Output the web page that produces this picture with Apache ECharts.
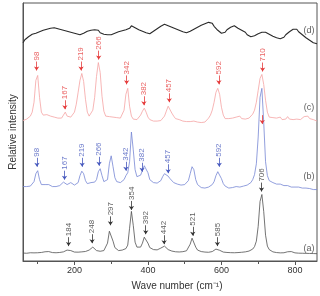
<!DOCTYPE html>
<html><head><meta charset="utf-8">
<script src="https://cdn.jsdelivr.net/npm/echarts@6/dist/echarts.min.js"></script>
<style>html,body{margin:0;padding:0;background:#fff}#c{width:320px;height:296px}</style>
</head><body><div id="c"></div>
<script>
const waves = [60,65,70,75,80,85,90,95,100,105,
110,115,120,125,130,135,140,145,150,155,
160,165,170,175,180,185,190,195,200,205,
210,215,220,225,230,235,240,245,250,255,
260,265,270,275,280,285,290,295,300,305,
310,315,320,325,330,335,340,345,350,355,
360,365,370,375,380,385,390,395,400,405,
410,415,420,425,430,435,440,445,450,455,
460,465,470,475,480,485,490,495,500,505,
510,515,520,525,530,535,540,545,550,555,
560,565,570,575,580,585,590,595,600,605,
610,615,620,625,630,635,640,645,650,655,
660,665,670,675,680,685,690,695,700,705,
710,715,720,725,730,735,740,745,750,755,
760,765,770,775,780,785,790,795,800,805,
810,815,820,825,830,835,840,845,850,855,
860];

const curveA = [8,8.2,7.8,8,8.3,8,8.2,8.5,8.3,8.4,
8.6,8.8,9.3,10,9.5,8.8,8.5,8.4,8.3,8.5,
8.6,8.8,9.2,10,11,11.3,10.5,9.5,9,8.8,
8.9,9,9.2,9.3,9.6,10,11,13,14,12,
10.5,10,9.8,10,10.5,12,18,30,31,20,
13.5,11.5,10.5,10.5,11,11.5,12.5,16,33,50,
36,19,14,13,14,18,24,25,18,13.5,
12,11.5,11.2,11.2,11.8,13,15,15,13,11.5,
10.5,10,9.6,9.3,9.2,9.1,9.2,9.4,9.8,10.3,
12,17,23,21,14,11,10,9.5,9.2,9,
8.9,8.8,9,9.5,10.5,12,12.3,10.8,9.5,9,
8.7,8.6,8.5,8.4,8.4,8.3,8.4,8.5,8.6,8.8,
9,9.2,9.5,10,10.8,12,14.5,20,35,60,
67,50,26,15,11.5,10,9.2,8.8,8.5,8.3,
8.2,8.2,8.3,8.6,9.3,10,9.5,8.6,8.2,8,
7.9,7.8,7.8,7.7,7.7,7.6,7.6,7.5,7.5,7.4,
7.4];

const curveB = [75,75.5,75,76,75.5,76.5,80,88,91,82,
77,76,77,78.5,77,75.5,75,75.5,75,75.5,
76,77.5,79.5,79,77,78,79,78,76.5,76,
79,86,90.5,88,81,78,77,79,81,79.5,
82,90,93,86,80,78,82,98,106,95,
84,80,79,79,80,82,86,89,100,130,
112,92,85,85,86.5,88,96,98,89,82,
80,79,78.5,78.5,79,81,85,88,87,85.5,
83,81,79,78,77.5,77,76.5,76.5,77,78,
81,88,95,92,82,77,75,74,73.5,73.5,
74,74.5,75,77,80,86,90,89,83,78,
75.5,74,73.5,73.5,74,74.5,75,74.5,74.5,75,
75.5,76,76.5,77.5,79,82,87,98,125,165,
174,140,100,86,81,80,79,78.5,77.5,77,
77.5,76.5,76,75.5,76,75,74.5,75,74.5,74,
74.5,73.5,73.5,73,73.5,72.5,73,72.5,72,72.5,
72];

const curveC = [141.5,142,143,144,146,150,160,182,187,165,
150,147,146.5,147.5,145.5,146,144.5,145,143,144,
142.5,144,147,150,146,144.5,145,147,150,158,
170,182,189,181,163,150,146,147,152,165,
186,200,190,166,151,146,144,145.5,143.5,145,
143,144.5,142.5,144,146,152,168,174,156,146,
143,144,142.5,144,147,151,154,150,145,142.5,
143,141,142.5,141,142,141.5,143,146,151,156,
154,149,146,143.5,142,142.5,140.5,141,139.5,140.5,
139,140.5,139.5,141,139,140,141.5,139.5,141,140,
142,144,147,152,160,170,174,168,155,147,
143.5,142,143.5,142,144,143,145,147,146,143.5,
144.5,143,145,144,146,148,152,160,172,184,
188,178,162,150,145,143,144.5,142.5,144,142,
145,142.5,144,143,145.5,143,144.5,142.5,144,143,
145,142.5,144,145.5,147,146,143.5,144.5,142.5,141.5,
141];

const curveD = [220,223,223.5,226,226,228.5,227,229.5,229,231,
229.5,232.5,232,233.5,234,234.5,235,235,234.5,234,
233.5,233,232.5,232,231.5,231,230.5,230,229.5,229,
228.5,228,227.5,229.5,230,231.5,232,232.5,232.5,233,
231,232.5,230,230.5,228.5,230,228,229.5,228,230,
229.5,231,231,231.5,232,233.5,233,235,234.5,237,
235.5,235,233.5,233,231.5,231.5,230,230,228.5,229,
229,231.5,231.5,234,234,236.5,236.5,238.5,237,237,
235.5,235.5,234,234,232,232.5,230.5,231,229.5,230,
230,231.5,232,233.5,233.5,235.5,235.5,237.5,237,239,
239,240.5,240,239.5,236.5,235.5,232.5,232,229.5,230,
230.5,233,233,235.5,235.5,237,235,234.5,232.5,232.5,
230.5,230.5,228,228,226,227,227,229,229,231,
230.5,232,230.5,230.5,228.5,228.5,226.5,227,225,225.5,
224,225.5,225.5,228,228.5,231,231.5,233.5,233,233.5,
231,230.5,228,227.5,225,224.5,222.5,222,220,220,
219];

const xTickLabels = [200,400,600,800];
const xMinorTicks = [100,300,500,700];

const annA = ['184','248','297','354','392','442','521','585','706'];
const annAx = [184,248,298,355,394,444,522,589,709];
const annAtip = [15,18,36,51.5,27,17,25.5,15,70];

const annB = ['98','167','219','266','342','382','457','592'];
const annBx = [98,173,221,267,340,384,455,594];
const annBtip = [95,82,95,96,91,90,88.5,95];

const annC = ['98','167','219','266','342','382','457','592','710'];
const annCx = [97,174,218,266,342,389,458,593,712];
const annCtip = [192,153,192,203,178,157,160,178,191];
const extraRedArrowX = [711];
const extraRedArrowTip = [138];

const curveNames = ['(a)','(b)','(c)','(d)'];
const curveNameX = [838,838,838,838];
const curveNameY = [13,85,155,232];

const FONT = 'Liberation Sans, Arial, sans-serif';
const ARROW = 9;
const pairs = ys => waves.map((w,i)=>[w, ys[i]]);
const arrowLines = (xs,tips)=>xs.map((x,i)=>[{coord:[x,tips[i]+ARROW]},{coord:[x,tips[i]]}]);
const textPts = (labels,xs,tips)=>labels.map((t,i)=>({value:[xs[i],tips[i]+ARROW+1],name:t}));

function curve(ys,color,width,arrowXs,arrowTips,arrowColor){
  const s = {type:'line', data:pairs(ys), showSymbol:false, symbol:'none', silent:true,
    lineStyle:{color:color,width:width}, z:2};
  if(arrowXs){
    s.markLine = {silent:true, symbol:['none','arrow'], symbolSize:4, animation:false,
      lineStyle:{color:arrowColor,width:0.8,type:'solid'}, label:{show:false},
      emphasis:{disabled:true}, data:arrowLines(arrowXs,arrowTips)};
  }
  return s;
}
function texts(labels,xs,tips,color){
  return {type:'scatter', data:textPts(labels,xs,tips), symbol:'circle', symbolSize:1, silent:true,
    itemStyle:{color:'rgba(0,0,0,0)'}, z:5,
    label:{show:true, formatter:'{b}', position:'inside', rotate:90, align:'left', verticalAlign:'middle',
      fontSize:8, color:color, fontFamily:FONT}};
}

const chart = echarts.init(document.getElementById('c'), null, {renderer:'canvas'});
chart.setOption({
  animation:false,
  backgroundColor:'#fff',
  grid:{left:17,right:3,top:3,bottom:33,show:true,borderColor:'#555',borderWidth:1,containLabel:false},
  xAxis:[{type:'value',min:60,max:860,position:'bottom',
    axisLine:{show:true,lineStyle:{color:'#555',width:1}},
    axisTick:{show:true,customValues:xTickLabels,length:4,lineStyle:{color:'#555'}},
    axisLabel:{customValues:xTickLabels,fontSize:9,color:'#333',margin:5,fontFamily:FONT},
    splitLine:{show:false},
    name:'Wave number (cm⁻¹)',nameLocation:'middle',nameGap:20,
    nameTextStyle:{fontSize:10,color:'#333',fontFamily:FONT,padding:[0,0,0,14]}},
   {type:'value',min:60,max:860,position:'bottom',
    axisLine:{show:false},
    axisTick:{show:true,customValues:xMinorTicks,length:3,lineStyle:{color:'#555'}},
    axisLabel:{show:false},splitLine:{show:false}}],
  yAxis:{type:'value',min:0,max:260,
    axisLine:{show:true,lineStyle:{color:'#555'}},axisTick:{show:false},axisLabel:{show:false},
    splitLine:{show:false},
    name:'Relative intensity',nameLocation:'middle',nameGap:5,
    nameTextStyle:{fontSize:10,color:'#333',fontFamily:FONT}},
  series:[
    curve(curveA,'#505050',0.8,annAx,annAtip,'#333'),
    curve(curveB,'#7686d4',0.8,annBx,annBtip,'#4557bd'),
    curve(curveC,'#f5a3a3',0.8,annCx,annCtip,'#e53a3a'),
    curve(curveD,'#2a2a2a',1.1),
    {type:'line',data:[],markLine:{silent:true,symbol:['none','arrow'],symbolSize:4,animation:false,
      lineStyle:{color:'#e53a3a',width:0.8,type:'solid'},label:{show:false},
      data:arrowLines(extraRedArrowX,extraRedArrowTip)}},
    texts(annA,annAx,annAtip,'#333'),
    texts(annB,annBx,annBtip,'#4557bd'),
    texts(annC,annCx,annCtip,'#e53a3a'),
    {type:'scatter',symbolSize:1,silent:true,itemStyle:{color:'rgba(0,0,0,0)'},
      data:curveNames.map((n,i)=>({value:[curveNameX[i],curveNameY[i]],name:n})),
      label:{show:true,formatter:'{b}',position:'inside',fontSize:9,color:'#333',fontFamily:FONT}}
  ]
});
</script></body></html>
